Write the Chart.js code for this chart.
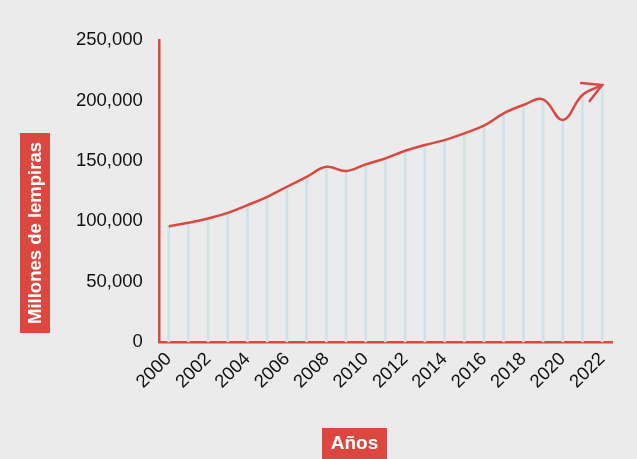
<!DOCTYPE html>
<html><head><meta charset="utf-8">
<script src="https://cdn.jsdelivr.net/npm/chart.js@4.4.0/dist/chart.umd.min.js"></script>
<style>
html,body{margin:0;padding:0;background:#ebebeb;}
#wrap{width:637px;height:459px;position:relative;}
</style></head>
<body><div id="wrap"><canvas id="c" width="637" height="459"></canvas></div>
<script>
const years = ["2000","2001","2002","2003","2004","2005","2006","2007","2008","2009","2010","2011","2012","2013","2014","2015","2016","2017","2018","2019","2020","2021","2022"];
const values = [96000,98800,102400,107000,113400,120300,128600,136800,145100,141600,147100,152100,158400,163100,167200,172800,179100,189300,196200,200900,183800,204500,212700];
const yTitle = "Millones de lempiras";
const xTitle = "Años";
const RED = "#dc4840";

const deco = {
  id: 'deco',
  afterDatasetsDraw(chart) {
    const ctx = chart.ctx;
    const meta = chart.getDatasetMeta(1);
    const p = meta.data[meta.data.length - 1];
    ctx.save();
    ctx.strokeStyle = RED; ctx.lineWidth = 2.5; ctx.lineCap = 'round';
    ctx.beginPath();
    ctx.moveTo(p.x - 21, p.y - 2); ctx.lineTo(p.x, p.y);
    ctx.lineTo(p.x - 12.5, p.y + 16);
    ctx.stroke();
    ctx.restore();
  },
  afterDraw(chart) {
    const ctx = chart.ctx;
    ctx.save();
    // y title
    ctx.fillStyle = RED;
    ctx.fillRect(20, 133, 30, 200);
    ctx.save();
    ctx.translate(35, 233);
    ctx.rotate(-Math.PI / 2);
    ctx.fillStyle = '#fff';
    ctx.font = 'bold 18.5px "Liberation Sans", Arial, sans-serif';
    ctx.textAlign = 'center'; ctx.textBaseline = 'middle';
    ctx.fillText(yTitle, 0, 1);
    ctx.restore();
    // x title
    ctx.fillStyle = RED;
    ctx.fillRect(322, 428, 65, 31);
    ctx.fillStyle = '#fff';
    ctx.font = 'bold 19px "Liberation Sans", Arial, sans-serif';
    ctx.textAlign = 'center'; ctx.textBaseline = 'middle';
    ctx.fillText(xTitle, 354.5, 444);
    ctx.restore();
  }
};

new Chart(document.getElementById('c'), {
  data: {
    labels: years,
    datasets: [
      { type: 'bar', data: values, backgroundColor: '#cfe2e7', barThickness: 2, order: 2 },
      { type: 'line', data: values, borderColor: RED, borderWidth: 2.5, tension: 0.4, pointRadius: 0, fill: false, order: 1 }
    ]
  },
  options: {
    responsive: false,
    animation: false,
    layout: { padding: { left: 60, right: 25, top: 40, bottom: 60 } },
    plugins: { legend: { display: false }, tooltip: { enabled: false } },
    scales: {
      x: {
        offset: true,
        grid: { display: false, drawTicks: false },
        border: { display: true, color: RED, width: 2.5 },
        ticks: {
          autoSkip: false, maxRotation: 45, minRotation: 45, padding: 6,
          color: '#111', font: { family: '"Liberation Sans", Arial, sans-serif', size: 18.5 },
          callback: function(v, i) { return i % 2 === 0 ? years[i] : ''; }
        }
      },
      y: {
        min: 0, max: 250000,
        grid: { display: false, drawTicks: false },
        border: { display: true, color: RED, width: 2.5 },
        ticks: {
          stepSize: 50000, padding: 16, color: '#111',
          font: { family: '"Liberation Sans", Arial, sans-serif', size: 18.5 },
          callback: v => v.toLocaleString('en-US')
        }
      }
    }
  },
  plugins: [deco]
});
</script></body></html>
